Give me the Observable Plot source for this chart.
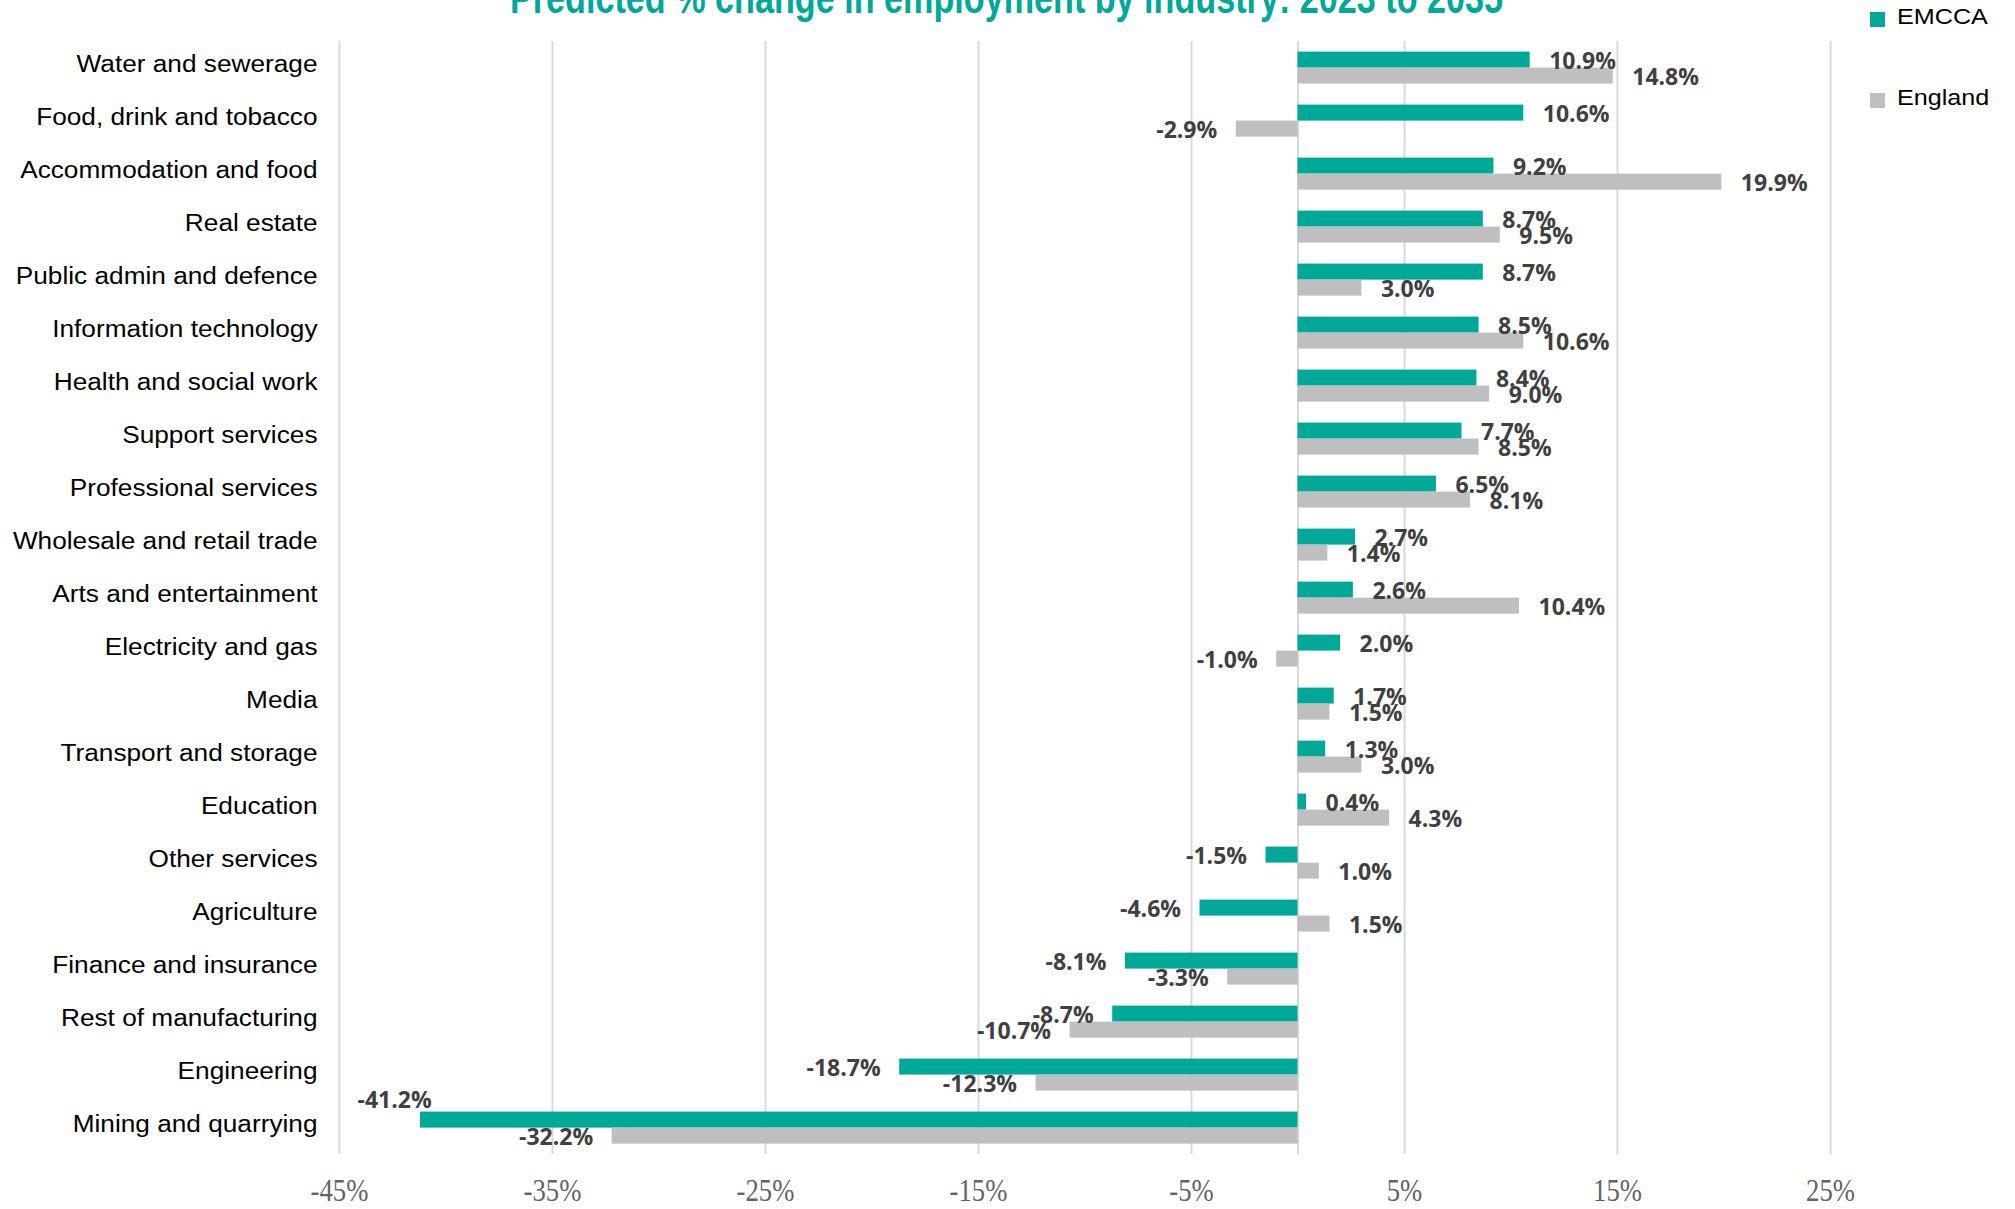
<!DOCTYPE html>
<html>
<head>
<meta charset="utf-8">
<script src="https://cdn.jsdelivr.net/npm/d3@7"></script>
<script src="https://cdn.jsdelivr.net/npm/@observablehq/plot@0.6"></script>
<style>
  html, body { margin: 0; padding: 0; background: #fff; }
  #wrap { position: relative; width: 2015px; height: 1209px; overflow: hidden; }
  #title { position: absolute; left: 510px; top: -24px; white-space: nowrap;
           font-family: "Liberation Sans Narrow", "Liberation Sans", sans-serif; font-weight: bold;
           font-size: 44px; color: #00A898; transform-origin: 0 0; line-height: 1; }
  .leg { position: absolute; left: 1870px; font-family: "Liberation Sans", Arial, sans-serif; font-size: 21.5px; color: #000; white-space: nowrap; }
  .leg .sw { position: absolute; left: 0; width: 15px; height: 15px; }
  .leg .lt { position: absolute; left: 27px; top: -5px; transform-origin: 0 0; line-height: 1; }
  svg { position: absolute; left: 0; top: 0; }
</style>
</head>
<body>
<div id="wrap">
  <div id="title">Predicted % change in employment by industry: 2023 to 2035</div>
</div>
<script>
const categories = [
  "Water and sewerage", "Food, drink and tobacco", "Accommodation and food", "Real estate",
  "Public admin and defence", "Information technology", "Health and social work", "Support services",
  "Professional services", "Wholesale and retail trade", "Arts and entertainment", "Electricity and gas",
  "Media", "Transport and storage", "Education", "Other services", "Agriculture",
  "Finance and insurance", "Rest of manufacturing", "Engineering", "Mining and quarrying"
];
const emcca   = [10.9, 10.6, 9.2, 8.7, 8.7, 8.5, 8.4, 7.7, 6.5, 2.7, 2.6, 2.0, 1.7, 1.3, 0.4, -1.5, -4.6, -8.1, -8.7, -18.7, -41.2];
const england = [14.8, -2.9, 19.9, 9.5, 3.0, 10.6, 9.0, 8.5, 8.1, 1.4, 10.4, -1.0, 1.5, 3.0, 4.3, 1.0, 1.5, -3.3, -10.7, -12.3, -32.2];
const seriesNames = ["EMCCA", "England"];
const seriesColors = ["#00A898", "#BFBFBF"];
const xTicks = [-45, -35, -25, -15, -5, 5, 15, 25];
const gridValues = [-45, -35, -25, -15, -5, 0, 5, 15, 25];
const xDomain = [-45, 25];

const data = [];
categories.forEach((c, i) => {
  data.push({category: c, series: "EMCCA", value: emcca[i]});
  data.push({category: c, series: "England", value: england[i]});
});
const fmt = v => v.toFixed(1) + "%";
const labelPct = 4.5; // approx label width in axis units
const overflow = d => d.value < 0 && d.value - labelPct < xDomain[0];
const pos = data.filter(d => d.value >= 0);
const neg = data.filter(d => d.value < 0 && !overflow(d));
const ovf = data.filter(d => overflow(d));

const labelFont = {fontFamily: "Open Sans", fontWeight: "bold", fontSize: 23, fill: "#404040"};

const svg = Plot.plot({
  width: 2015,
  height: 1209,
  marginLeft: 339,
  marginRight: 185,
  marginTop: 39.4,
  marginBottom: 52.4,
  style: {fontFamily: "Liberation Sans, Arial, sans-serif", color: "#000", background: "transparent"},
  x: {domain: xDomain},
  fy: {domain: categories, padding: 0},
  y: {domain: seriesNames, paddingInner: 0, paddingOuter: 0.612, axis: null},
  color: {domain: seriesNames, range: seriesColors},
  marks: [
    Plot.ruleX(gridValues, {stroke: "#D9D9D9", strokeWidth: 2}),
    Plot.barX(data, {fy: "category", y: "series", x: "value", fill: "series", inset: 0}),
    Plot.text(pos, {fy: "category", y: "series", x: "value", text: d => fmt(d.value), textAnchor: "start", dx: 19, dy: 1.5, ...labelFont}),
    Plot.text(neg, {fy: "category", y: "series", x: "value", text: d => fmt(d.value), textAnchor: "end", dx: -19, dy: 1.5, ...labelFont}),
    Plot.text(ovf, {fy: "category", y: "series", x: xDomain[0], text: d => fmt(d.value), textAnchor: "start", dx: 18, dy: -19, ...labelFont}),
    Plot.axisX({ticks: xTicks, tickFormat: d => d + "%", tickSize: 0, tickPadding: 24, fontSize: 31,
                fontFamily: "Liberation Sans Narrow", fill: "#636363", label: null}),
    Plot.axisFy({anchor: "left", tickSize: 0, tickPadding: 22, fontSize: 23, dy: -3, fill: "#000", label: null})
  ]
});
const wrap = document.getElementById("wrap");
wrap.appendChild(svg);

// horizontal stretch of the category labels to match the reference proportions
svg.querySelectorAll('g[aria-label="fy-axis tick label"] text').forEach(t => {
  const len = t.getComputedTextLength();
  t.setAttribute("textLength", len * 1.14);
  t.setAttribute("lengthAdjust", "spacingAndGlyphs");
});
// narrower x tick labels
svg.querySelectorAll('g[aria-label="x-axis tick label"] text').forEach(t => {
  const len = t.getComputedTextLength();
  t.setAttribute("textLength", len * 0.86);
  t.setAttribute("lengthAdjust", "spacingAndGlyphs");
});

// legend
const legendTops = [12, 93];
seriesNames.forEach((s, i) => {
  const item = document.createElement("div");
  item.className = "leg";
  item.style.top = legendTops[i] + "px";
  item.innerHTML = `<div class="sw" style="background:${seriesColors[i]}"></div><div class="lt">${s}</div>`;
  wrap.appendChild(item);
  const lt = item.querySelector(".lt");
  lt.style.transform = "scaleX(1.17)";
});

// title width fit
const title = document.getElementById("title");
const w = title.getBoundingClientRect().width;
title.style.transform = `scaleX(${993 / w})`;
</script>
</body>
</html>
